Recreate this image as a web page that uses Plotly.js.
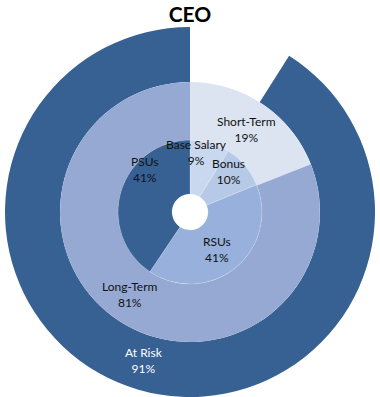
<!DOCTYPE html>
<html>
<head>
<meta charset="utf-8">
<script src="https://cdn.plot.ly/plotly-3.0.1.min.js"></script>
<style>html,body{margin:0;padding:0;background:#fff;}#chart{width:380px;height:397px;}</style>
</head>
<body>
<div id="chart"></div>
<script>
// Outer ring (first slice is the fixed part, left empty)
const outerLabels = ["Fixed", "At Risk"];
const outerValues = [9, 91];
// Middle ring
const middleLabels = ["Short-Term", "Long-Term"];
const middleValues = [19, 81];
// Inner ring
const innerLabels = ["Base Salary", "Bonus", "RSUs", "PSUs"];
const innerValues = [9, 10, 41, 41];

const W = 380, H = 397;
const cx = 190, cy = 212;
const rings = {outer: [130, 185], middle: [72, 130], inner: [18, 72]};
function dom(r) {
  return {
    x: [(cx - r) / W, (cx + r) / W],
    y: [(H - cy - r) / H, (H - cy + r) / H]
  };
}
const FAM = "Lato, 'Open Sans', sans-serif";

const common = {
  type: "pie", sort: false, direction: "clockwise", rotation: 0,
  textinfo: "none", hoverinfo: "label+value", showlegend: false
};

const traces = [
  Object.assign({}, common, {
    labels: outerLabels, values: outerValues,
    domain: dom(rings.outer[1]), hole: rings.outer[0] / rings.outer[1],
    marker: {colors: ["rgba(0,0,0,0)", "#376093"], line: {width: 0}}
  }),
  Object.assign({}, common, {
    labels: middleLabels, values: middleValues,
    domain: dom(rings.middle[1]), hole: rings.middle[0] / rings.middle[1],
    marker: {colors: ["#DCE4F2", "#95A9D3"], line: {width: 0}}
  }),
  Object.assign({}, common, {
    labels: innerLabels, values: innerValues,
    domain: dom(rings.inner[1]), hole: rings.inner[0] / rings.inner[1],
    marker: {colors: ["#C9D7EF", "#B6C9E7", "#97B1DC", "#376093"], line: {color: "rgba(255,255,255,0.4)", width: 0.5}}
  })
];

// label placement style: radius (px) and angular nudge (deg) per label
const labelStyle = {
  "At Risk": {r: 155, da: 1, color: "#ffffff"},
  "Short-Term": {r: 100, da: 0},
  "Long-Term": {r: 102, da: 2},
  "Base Salary": {r: 60, da: -10},
  "Bonus": {r: 56, da: -6},
  "RSUs": {r: 46, da: 3},
  "PSUs": {r: 62, da: 26}
};

const annotations = [];
function addLabels(labels, values, skip) {
  const total = values.reduce((a, b) => a + b, 0);
  let cum = 0;
  labels.forEach((lab, i) => {
    const mid = (cum + values[i] / 2) / total * 360;
    cum += values[i];
    if (skip && skip.includes(lab)) return;
    const st = labelStyle[lab];
    const a = (mid + st.da) * Math.PI / 180;
    const px = cx + st.r * Math.sin(a);
    const py = cy - st.r * Math.cos(a);
    annotations.push({
      text: lab + "<br>" + values[i] + "%",
      x: px / W, y: 1 - py / H, xref: "paper", yref: "paper",
      xanchor: "center", yanchor: "middle", showarrow: false, align: "center",
      font: {family: FAM, size: 12, color: st.color || "#111111"}
    });
  });
}
addLabels(outerLabels, outerValues, ["Fixed"]);
addLabels(middleLabels, middleValues);
addLabels(innerLabels, innerValues);

const layout = {
  width: W, height: H,
  margin: {l: 0, r: 0, t: 0, b: 0},
  paper_bgcolor: "#ffffff",
  title: {text: "<b>CEO</b>", x: 0.5, xanchor: "center", y: 0.982, yanchor: "top",
          font: {family: FAM, size: 21, color: "#000000"}},
  annotations: annotations,
  showlegend: false
};

Plotly.newPlot("chart", traces, layout, {displayModeBar: false, staticPlot: true});
</script>
</body>
</html>
